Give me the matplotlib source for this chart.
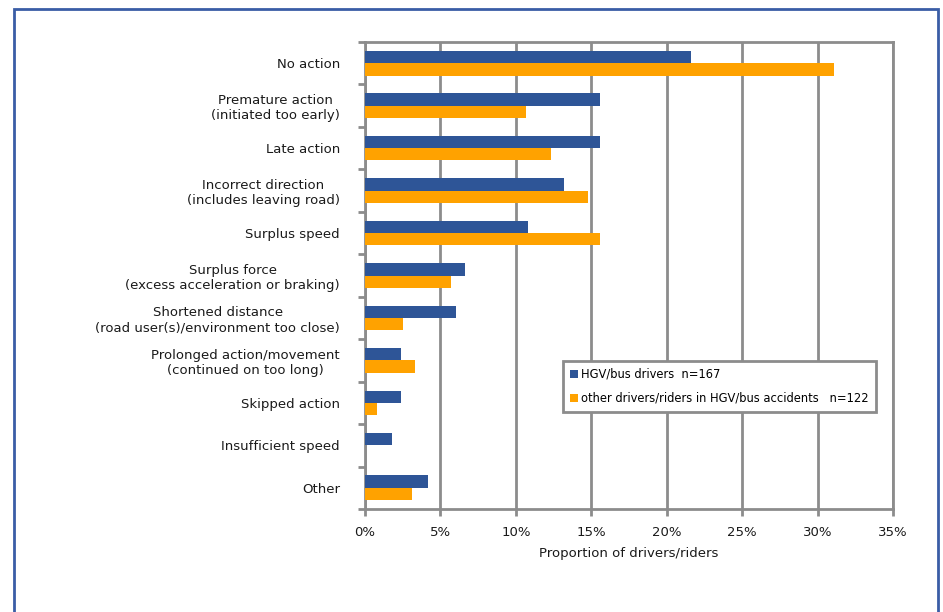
import matplotlib
matplotlib.use("Agg")
import matplotlib.pyplot as plt
import numpy as np
from matplotlib.patches import Rectangle
from matplotlib.ticker import FuncFormatter, MultipleLocator

categories = [
    "No action",
    "Premature action\n(initiated too early)",
    "Late action",
    "Incorrect direction\n(includes leaving road)",
    "Surplus speed",
    "Surplus force\n(excess acceleration or braking)",
    "Shortened distance\n(road user(s)/environment too close)",
    "Prolonged action/movement\n(continued on too long)",
    "Skipped action",
    "Insufficient speed",
    "Other",
]
hgv = [21.6, 15.6, 15.6, 13.2, 10.8, 6.6, 6.0, 2.4, 2.4, 1.8, 4.2]
other = [31.1, 10.7, 12.3, 14.8, 15.6, 5.7, 2.5, 3.3, 0.8, 0.0, 3.1]
series_labels = ["HGV/bus drivers  n=167",
                 "other drivers/riders in HGV/bus accidents   n=122"]

BLUE = "#2E5597"
ORANGE = "#FFA200"
GRID = "#8C8C8C"

plt.rcParams['font.family'] = ['DejaVu Sans']

fig = plt.figure(figsize=(9.43, 6.12), dpi=100)
W, H = 943, 612
ax = fig.add_axes([365 / W, 1 - 509 / H, (893 - 365) / W, (509 - 42) / H])

# outer blue frame
fig.patches.append(Rectangle((14 / W, -0.05), (938 - 14) / W, 1.05 - 9 / H,
                             transform=fig.transFigure, fill=False,
                             edgecolor="#3A5DA6", linewidth=2.0))

n = len(categories)
y = np.arange(n)
h = 0.29
ax.barh(y - h / 2, hgv, height=h, color=BLUE, linewidth=0,
        label=series_labels[0], zorder=3)
ax.barh(y + h / 2, other, height=h, color=ORANGE, linewidth=0,
        label=series_labels[1], zorder=3)

ax.set_ylim(n - 0.5, -0.5)
ax.set_xlim(0, 35)
ax.xaxis.set_major_locator(MultipleLocator(5))
ax.xaxis.set_major_formatter(FuncFormatter(lambda v, p: f"{int(round(v))}%"))
ax.grid(axis="x", color=GRID, linewidth=2.0, zorder=0)
ax.set_axisbelow(True)

for s in ax.spines.values():
    s.set_color(GRID)
    s.set_linewidth(2.0)

# category ticks: labels at centers, marks at boundaries
ax.set_yticks(y)
ax.set_yticklabels(categories, fontsize=9.5, color="#1a1a1a")
for t in ax.get_yticklabels():
    t.set_multialignment("center")
ax.tick_params(axis="y", which="major", length=0, pad=18)
ax.set_yticks(np.arange(-0.5, n, 1.0), minor=True)
ax.tick_params(axis="y", which="minor", length=5, width=2, color=GRID, direction="out")
ax.tick_params(axis="x", length=5, width=2, color=GRID, direction="out",
               labelsize=9.5, labelcolor="#1a1a1a", pad=7)
ax.set_xlabel("Proportion of drivers/riders", fontsize=9.5, color="#1a1a1a", labelpad=6)

leg = ax.legend(loc="upper left", bbox_to_anchor=(563 / W, 1 - 361 / H),
                bbox_transform=fig.transFigure, fontsize=8.3, frameon=True,
                fancybox=False, handlelength=0.7, handleheight=0.7,
                handletextpad=0.3, borderpad=0.6, labelspacing=0.95,
                borderaxespad=0)
leg.get_frame().set_edgecolor(GRID)
leg.get_frame().set_linewidth(2.0)
leg.get_frame().set_alpha(1)

fig.savefig("out.png", dpi=100)
